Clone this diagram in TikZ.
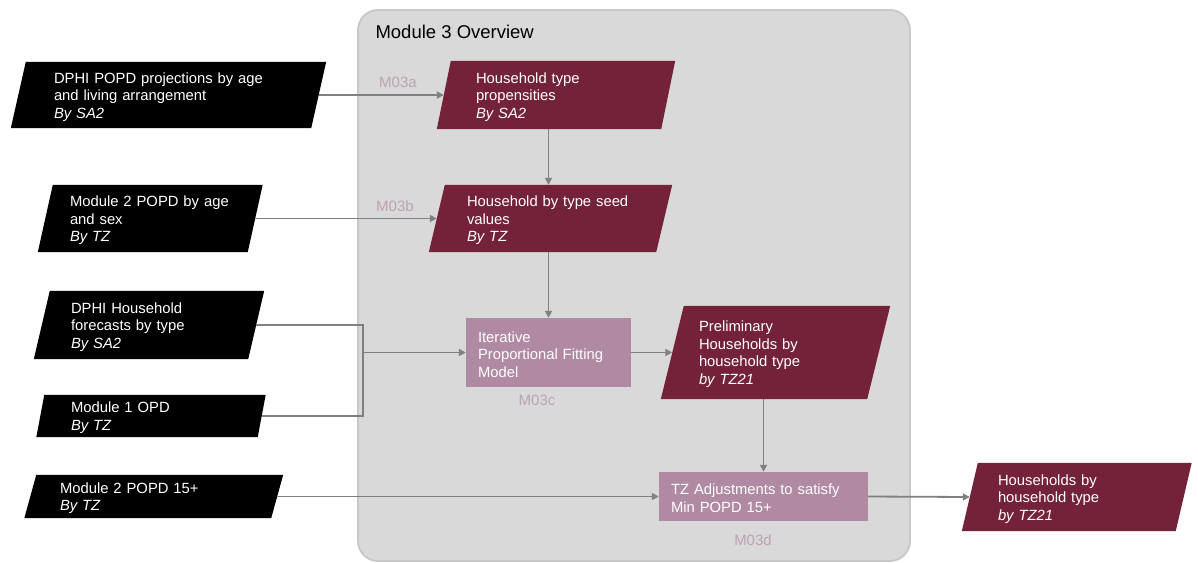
\documentclass[tikz,border=0pt]{standalone}
\usepackage{fontspec}
\setmainfont{Liberation Sans}
\usetikzlibrary{arrows.meta,backgrounds}
\pgfdeclarelayer{panel}
\pgfsetlayers{panel,background,main}

\definecolor{maroon}{RGB}{115,34,57}
\definecolor{mauve}{RGB}{176,138,163}
\definecolor{tagcol}{RGB}{188,162,180}
\definecolor{arrowgrey}{RGB}{128,128,128}
\definecolor{panelfill}{RGB}{217,217,217}
\definecolor{panelline}{RGB}{200,200,200}

% fill a parallelogram behind a node: name, colour, half of the slant
\newcommand\slantfill[3]{%
  \fill[#2] ([xshift=#3pt]#1.north west) -- ([xshift=#3pt]#1.north east)
    -- ([xshift=-#3pt]#1.south east) -- ([xshift=-#3pt]#1.south west) -- cycle;}

\tikzset{
  txt/.style={text=white, align=left, inner ysep=0pt,
    font=\fontsize{14.8}{17.5}\selectfont,
    execute at begin node={\rule{0pt}{14.5pt}}},
  proc/.style={txt, fill=mauve},
  link/.style={draw=arrowgrey, line width=1.8pt},
  flow/.style={link, -{Triangle[length=7pt,width=7pt]}},
  tag/.style={text=tagcol, font=\fontsize{15}{18}\selectfont},
}

\begin{document}
\begin{tikzpicture}[x=1pt,y=-1pt]
\useasboundingbox (0,0) rectangle (1198,562);

% module panel
\begin{pgfonlayer}{panel}
  \draw[draw=panelline, fill=panelfill, line width=1.8pt, rounded corners=20pt]
    (358,10) rectangle (910,561);
\end{pgfonlayer}
\node[anchor=west, font=\fontsize{18.5}{21}\selectfont] (title) at (372,32) {Module 3 Overview};

% inputs
\node[txt, minimum height=66pt, text width=229pt, inner xsep=35.5pt] (in1) at (168.5,95)
  {DPHI POPD projections by age\\and living arrangement\\\textit{By SA2}};
\node[txt, minimum height=67pt, text width=160.5pt, inner xsep=24.5pt] (in2) at (150.25,218.5)
  {Module 2 POPD by age\\and sex\\\textit{By TZ}};
\node[txt, minimum height=68pt, text width=156pt, inner xsep=29pt] (in3) at (149,325)
  {DPHI Household\\forecasts by type\\\textit{By SA2}};
\node[txt, minimum height=42pt, text width=160pt, inner xsep=30.5pt] (in4) at (151,416)
  {Module 1 OPD\\\textit{By TZ}};
\node[txt, minimum height=43pt, text width=187.5pt, inner xsep=29.5pt] (in5) at (153.75,496.5)
  {Module 2 POPD 15+\\\textit{By TZ}};

% module steps
\node[txt, minimum height=68pt, text width=160pt, inner xsep=32pt] (hhprop) at (556,95)
  {Household type\\propensities\\\textit{By SA2}};
\node[txt, minimum height=67pt, text width=167pt, inner xsep=30pt] (seed) at (550.5,218.5)
  {Household by type seed\\values\\\textit{By TZ}};
\node[proc, minimum height=69pt, text width=141pt, inner xsep=12pt] (ipf) at (548.5,352.5)
  {Iterative\\Proportional Fitting\\Model};
\node[txt, minimum height=93pt, text width=153pt, inner xsep=26.5pt] (prelim) at (775.5,352.5)
  {Preliminary\\Households by\\household type\\\textit{by TZ21}};
\node[proc, minimum height=49pt, text width=185pt, inner xsep=12pt] (adjust) at (763.5,496.5)
  {TZ Adjustments to satisfy\\Min POPD 15+};
\node[txt, minimum height=68pt, text width=157.5pt, inner xsep=28pt] (result) at (1076.75,497)
  {Households by\\household type\\\textit{by TZ21}};

% step labels
\node[tag] (tagA) at (398,82) {M03a};
\node[tag] (tagB) at (395,206) {M03b};
\node[tag] (tagC) at (537,400) {M03c};
\node[tag] (tagD) at (753,540) {M03d};

% parallelogram bodies
\begin{pgfonlayer}{background}
  \slantfill{in1}{black}{7.5}
  \slantfill{in2}{black}{7.5}
  \slantfill{in3}{black}{8}
  \slantfill{in4}{black}{4}
  \slantfill{in5}{black}{6}
  \slantfill{hhprop}{maroon}{7}
  \slantfill{seed}{maroon}{8}
  \slantfill{prelim}{maroon}{11.5}
  \slantfill{result}{maroon}{8}
\end{pgfonlayer}

% connectors
\draw[flow] (in1.east) -- (hhprop.west);
\draw[flow] (in2.east) -- (seed.west);
\draw[flow] (hhprop.south -| ipf.north) -- (seed.north -| ipf.north);
\draw[flow] (seed.south -| ipf.north) -- (ipf.north);
\coordinate (join) at (363,352.5);
\draw[link] (in3.east) -| (join) |- (in4.east);
\draw[flow] (join) -- (ipf.west);
\draw[flow] (ipf.east) -- (prelim.west);
\draw[flow] (prelim.south -| adjust.north) -- (adjust.north);
\draw[flow] (in5.east) -- (adjust.west);
\draw[flow] (adjust.east) -- (result.west);
\end{tikzpicture}
\end{document}
